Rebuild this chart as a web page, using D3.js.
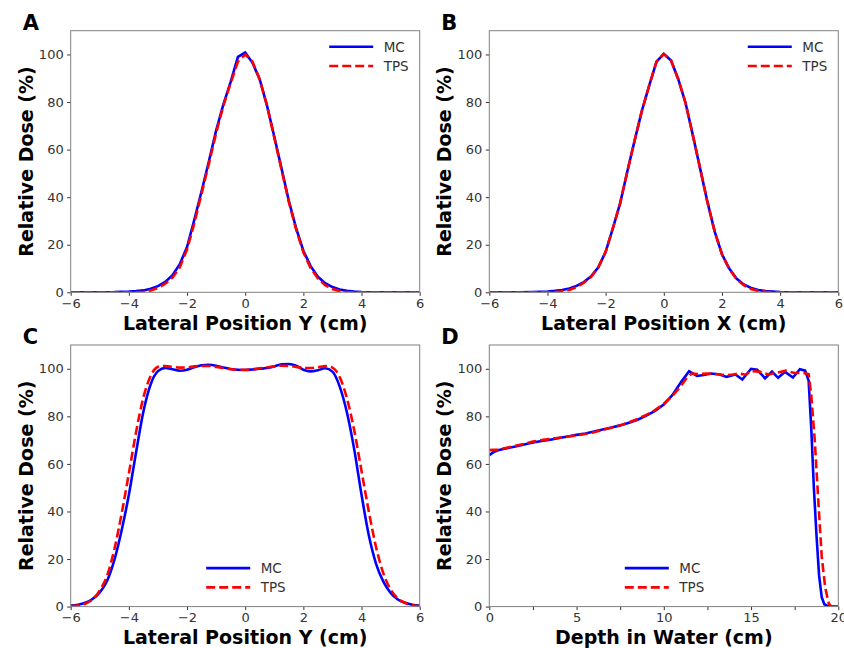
<!DOCTYPE html>
<html>
<head>
<meta charset="utf-8">
<script src="https://cdn.jsdelivr.net/npm/d3@7"></script>
<style>
  body { margin: 0; background: #fff; }
  svg { display: block; font-family: "DejaVu Sans", sans-serif; }
</style>
</head>
<body>
<svg id="chart" width="844" height="648"></svg>
<script>
// lateral profiles, A and B share the same sampling
var xProfile = [-6,-5,-4.5,-4,-3.75,-3.5,-3.25,-3,-2.75,-2.5,-2.25,-2,-1.75,-1.5,-1.25,-1,-0.75,-0.5,-0.25,0,
    0.25,0.5,0.75,1,1.25,1.5,1.75,2,2.25,2.5,2.75,3,3.25,3.5,3.75,4,4.5,5,6];
var mcA = [0,0.05,0.1,0.3,0.5,0.8,1.5,2.6,4.4,7.2,11.8,19,30.5,42.5,55,68,79,88.5,99,100.8,
    96.5,89.5,78.5,65.5,52,38.5,27,17.5,11,6.5,3.8,2.2,1.2,0.6,0.3,0.15,0.05,0,0];
var tpsA = [0,0,0,0,0.05,0.2,0.8,1.8,3.6,6.2,10.5,18,29,41.5,54,67,78.5,88,97,100,
    97,89.5,78.5,65,51.5,38,26.5,16.8,10.2,5.8,3.0,1.4,0.5,0.1,0,0,0,0,0];
var mcB = [0,0.05,0.15,0.35,0.6,1.0,1.6,2.7,4.3,6.7,10.5,17,27,37.5,51,64,76.5,87,97,100.3,
    97.5,89.5,79.5,66,52,38,25.5,16,10,5.8,3.3,1.8,1.0,0.5,0.3,0.15,0.05,0,0];
var tpsB = [0,0,0,0.05,0.15,0.4,1.0,2.2,4.0,6.5,10.5,17,27,37.5,51,64,76.5,87,97,100.2,
    97.5,89.5,79.5,66,52,38,25.5,16,9.8,5.5,3.0,1.4,0.6,0.2,0.05,0,0,0,0];

// SOBP lateral profile
var xC = [-6,-5.75,-5.5,-5.25,-5,-4.75,-4.5,-4.25,-4,-3.75,-3.5,-3.25,-3,-2.75,-2.5,-2.25,-2,-1.75,-1.5,-1.25,
    -1,-0.75,-0.5,-0.25,0,0.25,0.5,0.75,1,1.25,1.5,1.75,2,2.25,2.5,2.75,3,3.25,3.5,3.75,
    4,4.25,4.5,4.75,5,5.25,5.5,5.75,6];
var mcC = [0.4,0.8,1.6,3.2,6.0,10.8,19.5,32,47,65,82,93.5,99,100.4,99.8,99.2,99.6,100.6,101.5,101.7,
    101.3,100.5,99.9,99.6,99.5,99.7,100,100.3,101,101.9,102,101.3,99.6,98.9,99.4,100.2,98.8,92.5,81.5,66,
    47,30,18,10.5,5.8,3.0,1.6,0.8,0.4];
var tpsC = [0.2,0.5,1.2,3.0,6.8,13,24,39,56,73.5,88,97,100.8,101.2,100.8,100.5,100.6,101,101.2,101.2,
    100.8,100.3,99.8,99.6,99.6,99.8,100.2,100.6,101,101.3,101.2,100.8,100.4,100.3,100.6,101.1,100.5,96.5,87.5,74,
    57,40,25,14,7.2,3.4,1.5,0.6,0.2];

// depth dose
var xDmc = [0,0.25,0.5,1,1.5,2,2.5,3,3.5,4,4.5,5,5.5,6,6.5,7,7.5,8,8.5,9,9.5,10,10.5,11,11.45,
    11.9,12.3,12.7,13.2,13.6,14.1,14.5,15,15.35,15.8,16.2,16.55,16.95,17.4,17.8,
    18.1,18.3,18.45,18.6,18.75,18.9,19.05,19.2,19.4,19.6,20];
var mcD = [63.7,65,65.7,66.6,67.3,68.2,69,69.6,70.2,70.9,71.5,72.2,72.8,73.6,74.5,75.3,76.2,77.3,78.6,80.3,82.3,85,89,94.5,99,
    97,97.4,98,97.6,96.6,97.6,95.5,100,99.6,96,98.8,96.2,98.7,96.3,99.8,
    99.2,95,75,50,30,13,4,1,0.2,0,0];
var xDtps = [0,0.5,1,1.5,2,2.5,3,3.5,4,4.5,5,5.5,6,6.5,7,7.5,8,8.5,9,9.5,10,10.5,11,11.3,11.6,
    12,12.5,13,13.5,14,14.3,14.7,15,15.5,16,16.5,17,17.5,18,18.3,
    18.45,18.65,18.85,19.05,19.25,19.45,19.6,20];
var tpsD = [65.8,66,66.8,67.6,68.4,69.4,70,70.5,71,71.5,72,72.6,73.3,74.3,75.2,76.2,77.5,78.9,80.6,82.6,85.3,88.6,93,96,98,
    97.8,98,97.8,97.3,97.6,98,97.5,99,98.8,97.6,98.4,99.2,98.2,98.2,97.8,
    89,70,45,21,8,1.4,0,0];

var yTicks = [0,20,40,60,80,100];
var lateralTicks = [-6,-4,-2,0,2,4,6];
var depthTicks = [0,5,10,15,20];
var depthMinor = [2.5,7.5,12.5,17.5];
var seriesNames = ["MC","TPS"];

var zip = function(xs, ys) {
    return xs.map(function(x, i) { return [x, ys[i]]; });
};

var W = 349, H = 261.6;
var panels = [
    {letter: "A", left: 70.7, top: 30.7, xDomain: [-6,6], xTicks: lateralTicks, xLabel: "Lateral Position Y (cm)",
     mc: zip(xProfile, mcA), tps: zip(xProfile, tpsA), legend: "upper", curve: d3.curveLinear},
    {letter: "B", left: 489.3, top: 30.7, xDomain: [-6,6], xTicks: lateralTicks, xLabel: "Lateral Position X (cm)",
     mc: zip(xProfile, mcB), tps: zip(xProfile, tpsB), legend: "upper", curve: d3.curveLinear},
    {letter: "C", left: 70.7, top: 345, xDomain: [-6,6], xTicks: lateralTicks, xLabel: "Lateral Position Y (cm)",
     mc: zip(xC, mcC), tps: zip(xC, tpsC), legend: "lower", curve: d3.curveMonotoneX},
    {letter: "D", left: 489.3, top: 345, xDomain: [0,20], xTicks: depthTicks, minor: depthMinor, xLabel: "Depth in Water (cm)",
     mc: zip(xDmc, mcD), tps: zip(xDtps, tpsD), legend: "lower", curve: d3.curveLinear}
];

var svg = d3.select("#chart");

panels.forEach(function(p) {
    var g = svg.append("g").attr("transform", "translate(" + p.left + "," + p.top + ")");
    var x = d3.scaleLinear().domain(p.xDomain).range([0, W]);
    var y = d3.scaleLinear().domain([0, 110]).range([H, 0]);

    g.append("defs").append("clipPath").attr("id", "clip" + p.letter)
        .append("rect").attr("width", W).attr("height", H);

    var line = d3.line().x(function(d) { return x(d[0]); }).y(function(d) { return y(d[1]); }).curve(p.curve);
    var plot = g.append("g").attr("clip-path", "url(#clip" + p.letter + ")");
    plot.append("path").datum(p.mc).attr("d", line)
        .attr("fill", "none").attr("stroke", "#0000ff").attr("stroke-width", 2.6);
    plot.append("path").datum(p.tps).attr("d", line)
        .attr("fill", "none").attr("stroke", "#ff0000").attr("stroke-width", 2.6)
        .attr("stroke-dasharray", "9,4");

    g.append("g").attr("transform", "translate(0," + H + ")")
        .call(d3.axisBottom(x).tickValues(p.xTicks).tickSize(3.5).tickPadding(3).tickFormat(d3.format("d")));
    if (p.minor) {
        g.append("g").attr("transform", "translate(0," + H + ")")
            .call(d3.axisBottom(x).tickValues(p.minor).tickSize(3.5).tickFormat(""))
            .select(".domain").remove();
    }
    g.append("g")
        .call(d3.axisLeft(y).tickValues(yTicks).tickSize(3.5).tickPadding(3.5));
    g.selectAll(".domain").remove();
    g.selectAll(".tick line").attr("stroke", "#333");
    g.selectAll(".tick text").attr("fill", "#333").attr("font-size", "13px")
        .attr("font-family", "DejaVu Sans, sans-serif");

    g.append("rect").attr("width", W).attr("height", H)
        .attr("fill", "none").attr("stroke", "#808080").attr("stroke-width", 1);

    // axis titles and panel letter
    g.append("text").attr("x", W / 2).attr("y", H + 37.5)
        .attr("text-anchor", "middle").attr("font-weight", "bold").attr("font-size", "19px")
        .attr("fill", "#000").text(p.xLabel);
    g.append("text").attr("transform", "translate(-38," + (H / 2) + ") rotate(-90)")
        .attr("text-anchor", "middle").attr("font-weight", "bold").attr("font-size", "19px")
        .attr("fill", "#000").text("Relative Dose (%)");
    g.append("text").attr("x", -48).attr("y", -1)
        .attr("font-weight", "bold").attr("font-size", "21px").attr("fill", "#000").text(p.letter);

    // legend
    var lx = p.legend == "upper" ? W - 90.5 : W / 2 - 39;
    var ly = p.legend == "upper" ? 16 : H - 38.5;
    var leg = g.append("g").attr("transform", "translate(" + lx + "," + ly + ")");
    seriesNames.forEach(function(name, i) {
        leg.append("line").attr("x1", 0).attr("x2", 44).attr("y1", i * 19.3).attr("y2", i * 19.3)
            .attr("stroke", i == 0 ? "#0000ff" : "#ff0000").attr("stroke-width", 2.6)
            .attr("stroke-dasharray", i == 0 ? null : "9,4");
        leg.append("text").attr("x", 54.5).attr("y", i * 19.3).attr("dy", "0.36em")
            .attr("font-size", "13.5px").attr("fill", "#333").text(name);
    });
});
</script>
</body>
</html>
